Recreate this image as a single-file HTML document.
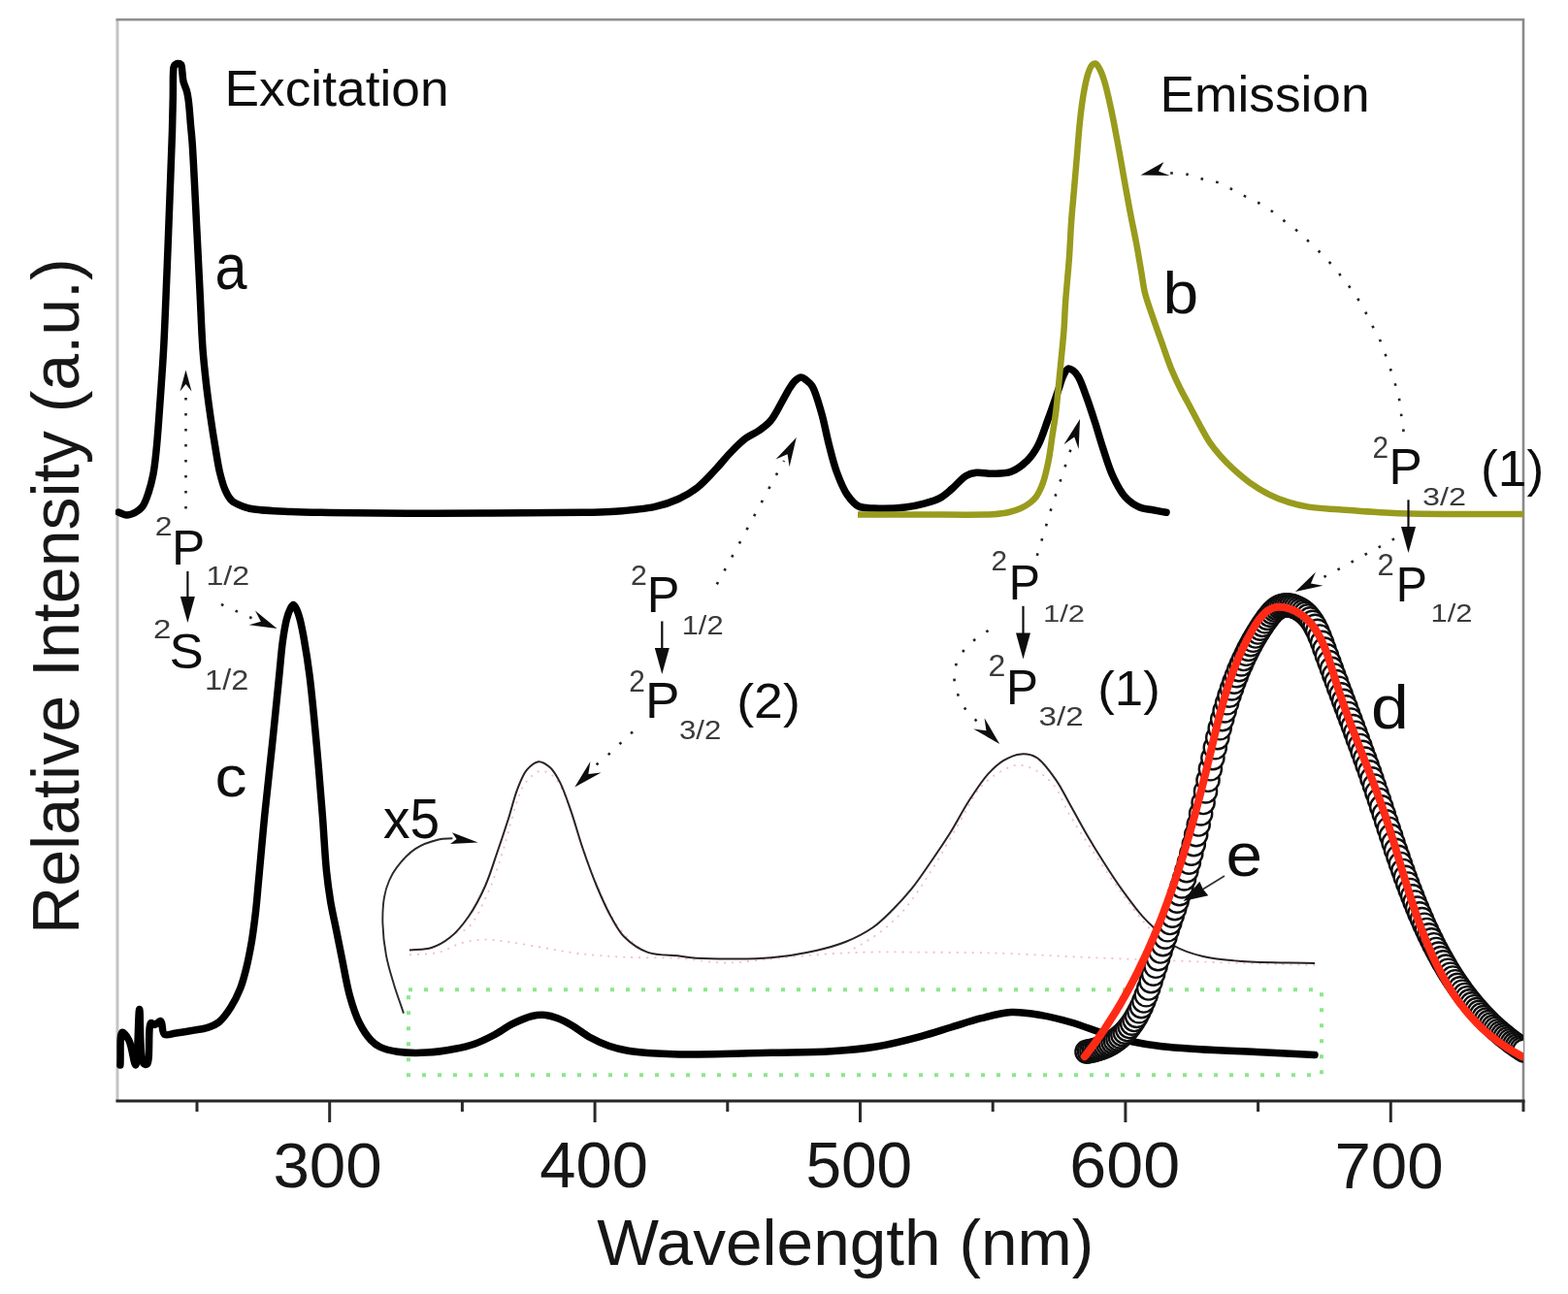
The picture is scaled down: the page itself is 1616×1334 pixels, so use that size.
<!DOCTYPE html><html><head><meta charset="utf-8"><title>Excitation and emission spectra</title><style>html,body{margin:0;padding:0;background:#fff;}svg{display:block;}text{font-family:"Liberation Sans",Arial,sans-serif;}</style></head><body>
<svg width="1616" height="1334" viewBox="0 0 1616 1334">
<rect width="1616" height="1334" fill="#fff"/>
<g id="plot" filter="url(#soft)">
<defs><clipPath id="frame"><rect x="121" y="20" width="1449" height="1115"/></clipPath><filter id="soft" x="0" y="0" width="100%" height="100%"><feGaussianBlur stdDeviation="0.65"/></filter><filter id="softt" x="0" y="0" width="100%" height="100%"><feGaussianBlur stdDeviation="0.55"/></filter><marker id="ah" viewBox="0 0 10 10" refX="9" refY="5" markerWidth="10" markerHeight="10" markerUnits="userSpaceOnUse" orient="auto"><path d="M0,0 L10,5 L0,10 L3,5 Z" fill="#111"/></marker></defs>
<line x1="121" y1="20.5" x2="121" y2="1136" stroke="#c4c4c4" stroke-width="3"/>
<line x1="119.5" y1="20.3" x2="1571" y2="20.3" stroke="#8f8f8f" stroke-width="2.6"/>
<line x1="1570" y1="19" x2="1570" y2="1136" stroke="#8a8a8a" stroke-width="2.6"/>
<rect x="421" y="1020.3" width="941" height="88" fill="none" stroke="#8de68d" stroke-width="4" stroke-dasharray="4 12"/>
<path d="M422.0,984.3 C432.0,983.5 442.7,984.1 452.0,981.9 C460.6,979.8 467.9,974.2 476.0,972.0 C483.9,969.9 492.0,968.9 500.0,968.7 C508.0,968.5 515.2,969.8 524.0,971.0 C534.8,972.4 548.0,975.0 560.0,977.0 C572.0,979.0 583.1,981.4 596.0,983.0 C610.8,984.8 627.4,985.9 644.0,986.7 C661.9,987.6 682.0,987.0 700.0,988.0 C716.7,989.0 731.9,992.5 748.3,992.5 C765.2,992.6 782.4,989.5 800.0,988.0 C818.4,986.4 839.0,984.3 856.6,983.2 C872.0,982.2 885.1,981.8 900.0,981.5 C915.9,981.2 932.8,981.6 949.4,981.7 C966.2,981.8 983.9,981.7 1000.0,982.0 C1014.7,982.3 1026.9,982.6 1042.0,983.2 C1059.8,983.9 1082.5,985.2 1100.0,986.0 C1114.6,986.7 1125.3,987.2 1140.0,987.8 C1158.0,988.5 1178.6,989.2 1200.0,990.0 C1224.8,990.9 1253.8,992.2 1280.0,993.0 C1305.4,993.8 1330.0,994.3 1355.0,995.0" fill="none" stroke="#f5bcc6" stroke-width="1.8" stroke-dasharray="2 6"/>
<path d="M470.0,962.0 C474.3,960.0 478.8,960.0 483.0,956.0 C490.5,948.9 498.7,929.7 504.7,916.0 C510.6,902.7 514.6,888.9 519.0,875.0 C523.4,860.9 527.3,843.4 531.0,832.0 C533.5,824.3 534.9,818.3 538.0,812.8 C540.7,807.9 544.4,803.1 548.0,800.0 C551.0,797.5 554.1,795.0 557.5,794.8 C561.3,794.6 566.4,797.1 570.0,800.0 C574.1,803.4 577.0,809.1 580.0,815.0 C583.8,822.5 586.6,832.3 590.0,842.0 C593.9,853.1 597.8,866.2 602.0,878.0 C606.1,889.5 610.3,900.9 615.0,912.0 C619.6,922.9 624.5,934.7 630.0,944.0 C634.7,952.0 639.6,959.1 645.0,965.0 C649.7,970.2 655.0,973.7 660.0,978.0" fill="none" stroke="#f5bcc6" stroke-width="1.8" stroke-dasharray="2 6"/>
<path d="M880.0,978.0 C888.6,972.7 897.4,968.3 905.7,962.0 C914.6,955.2 923.2,947.7 931.5,938.2 C941.2,927.1 950.2,912.6 959.2,898.6 C968.8,883.6 978.1,866.1 987.0,851.0 C995.2,837.2 1001.7,821.5 1010.7,811.5 C1017.9,803.5 1027.1,797.5 1034.5,793.7 C1040.0,790.9 1044.8,788.6 1050.3,788.7 C1056.5,788.8 1064.1,792.2 1070.0,795.6 C1076.0,799.1 1081.2,803.5 1086.0,809.5 C1092.1,817.1 1096.2,829.3 1101.8,839.0 C1107.5,848.8 1113.7,858.3 1120.0,868.0 C1126.4,878.0 1133.3,888.2 1140.0,898.0 C1146.6,907.5 1153.3,916.9 1160.0,926.0 C1166.6,934.9 1173.1,944.1 1180.0,952.0 C1186.4,959.3 1193.3,965.3 1200.0,972.0" fill="none" stroke="#f5bcc6" stroke-width="1.8" stroke-dasharray="2 6"/>
<path d="M422.0,979.5 C429.6,978.7 437.7,979.3 444.8,977.0 C451.7,974.8 458.0,971.1 464.0,966.3 C470.9,960.8 477.3,952.9 483.0,944.7 C489.4,935.6 495.2,924.3 500.0,913.5 C504.8,902.7 508.1,891.4 512.0,880.0 C516.1,868.2 520.3,855.6 524.0,844.0 C527.4,833.3 529.9,821.8 533.5,812.8 C536.4,805.5 538.9,798.4 543.0,793.6 C546.4,789.7 550.9,785.5 555.0,785.2 C558.9,784.9 563.5,788.2 567.0,791.2 C570.9,794.7 573.6,799.7 576.7,805.6 C581.0,813.8 584.9,825.8 588.7,836.8 C592.9,848.8 596.3,862.3 600.7,875.0 C605.1,887.9 610.0,901.4 615.0,913.5 C619.6,924.5 624.3,935.4 629.5,944.7 C634.0,952.7 637.6,960.2 643.8,966.3 C650.3,972.7 658.8,978.7 667.8,981.9 C677.4,985.3 690.9,984.4 700.0,985.5 C706.7,986.3 709.5,987.3 717.4,987.8 C734.0,988.8 772.3,989.0 794.7,987.2 C812.2,985.8 827.2,983.1 841.0,980.0 C852.5,977.4 862.1,974.8 872.0,970.8 C881.7,966.8 891.6,961.7 899.8,956.0 C907.3,950.7 913.2,944.6 919.6,938.2 C926.4,931.5 933.0,924.3 939.4,916.4 C946.3,907.9 952.7,898.1 959.2,888.7 C965.9,879.0 972.5,869.3 979.0,859.0 C985.8,848.2 992.0,835.8 998.8,825.3 C1005.2,815.5 1011.9,804.9 1018.6,797.6 C1023.9,791.8 1028.7,787.2 1034.5,783.8 C1040.0,780.6 1046.5,777.8 1052.3,777.4 C1057.7,777.0 1063.0,777.8 1068.1,780.8 C1075.1,784.9 1082.1,795.3 1088.0,803.6 C1094.0,812.1 1098.4,821.7 1103.8,831.3 C1109.6,841.5 1115.7,853.0 1121.6,863.0 C1126.9,872.1 1131.7,879.9 1137.4,888.7 C1143.5,898.3 1150.4,909.0 1157.2,918.4 C1163.7,927.4 1170.8,937.1 1177.0,944.2 C1181.8,949.7 1185.8,953.2 1190.9,958.0 C1196.7,963.4 1202.4,970.5 1210.0,975.0 C1218.5,980.1 1229.1,983.4 1240.0,986.0 C1252.2,989.0 1264.6,989.8 1280.0,991.0 C1301.1,992.6 1330.0,992.3 1355.0,993.0" fill="none" stroke="#2a2222" stroke-width="2"/>
<path d="M123.9,1098.0 C124.6,1086.8 123.0,1065.4 125.9,1064.4 C127.5,1063.9 130.8,1068.6 132.8,1072.3 C136.0,1078.2 138.1,1098.2 139.8,1098.0 C142.4,1097.7 142.4,1040.6 143.7,1040.6 C145.0,1040.6 143.6,1091.1 147.7,1096.0 C148.8,1097.3 150.5,1097.8 151.6,1097.0 C155.2,1094.5 152.1,1056.5 155.6,1054.5 C156.7,1053.9 158.2,1056.5 159.6,1056.4 C161.4,1056.3 164.0,1051.9 165.5,1052.5 C167.7,1053.3 166.7,1064.4 169.5,1066.3 C172.0,1068.0 176.3,1065.8 180.3,1065.3 C185.5,1064.6 192.4,1063.4 198.2,1062.4 C203.6,1061.4 209.2,1061.0 214.0,1059.4 C218.4,1057.9 222.2,1056.5 225.9,1053.5 C230.3,1050.0 234.3,1044.1 237.8,1038.6 C241.6,1032.6 245.0,1025.5 247.7,1018.8 C250.3,1012.3 251.8,1006.3 253.6,999.0 C255.8,990.1 257.9,979.2 259.6,969.3 C261.2,959.5 262.3,950.2 263.5,940.0 C264.8,928.9 265.5,918.5 266.8,905.0 C268.5,886.7 270.6,862.2 272.8,840.0 C275.1,816.6 278.0,792.0 280.5,768.0 C283.0,744.0 285.8,715.9 287.8,696.0 C289.2,681.9 290.0,670.5 291.5,660.0 C292.7,651.7 293.9,643.9 295.5,638.0 C296.6,633.8 297.9,630.1 299.3,627.5 C300.2,625.8 301.3,623.5 302.3,623.5 C303.3,623.5 304.4,625.8 305.3,627.5 C306.7,630.1 307.9,633.9 309.0,638.0 C310.5,643.4 311.6,649.5 313.0,657.0 C314.9,667.7 317.1,681.0 319.0,696.0 C321.6,716.3 324.1,744.0 326.3,768.0 C328.5,792.0 330.5,817.3 332.3,840.0 C333.9,860.4 334.8,881.6 336.5,898.0 C337.7,910.2 339.0,919.3 340.7,929.7 C342.4,939.8 344.7,949.5 346.7,959.4 C348.7,969.3 350.5,978.5 352.6,989.0 C355.0,1000.8 357.3,1015.2 360.5,1026.7 C363.3,1036.8 366.4,1046.5 370.4,1054.5 C373.8,1061.3 378.1,1067.9 382.3,1072.3 C385.4,1075.6 388.1,1077.6 392.0,1079.5 C396.8,1081.8 403.0,1083.2 409.7,1084.2 C418.3,1085.4 429.5,1085.6 439.4,1085.1 C449.3,1084.6 460.1,1082.9 469.0,1081.2 C476.4,1079.8 482.5,1078.5 489.0,1076.2 C495.7,1073.9 502.2,1070.7 508.7,1067.3 C515.4,1063.8 521.8,1058.7 528.5,1055.4 C535.0,1052.2 542.2,1048.9 548.3,1047.5 C553.2,1046.4 557.8,1046.1 562.2,1046.5 C566.3,1046.9 569.9,1048.0 574.0,1049.5 C579.0,1051.4 584.6,1054.3 590.0,1057.4 C595.9,1060.8 601.5,1065.8 607.7,1069.3 C614.0,1072.8 620.8,1075.9 627.5,1078.2 C634.0,1080.5 640.0,1081.9 647.3,1083.2 C656.1,1084.7 667.7,1085.5 677.0,1086.1 C685.1,1086.7 689.7,1086.9 700.0,1087.0 C720.8,1087.2 766.5,1085.9 794.7,1085.3 C817.5,1084.8 837.5,1085.0 856.6,1083.8 C873.2,1082.7 887.6,1081.6 903.0,1079.0 C918.5,1076.4 935.6,1072.0 949.4,1068.3 C960.8,1065.3 970.0,1062.1 980.3,1059.0 C990.6,1055.9 1000.9,1052.3 1011.3,1049.7 C1021.5,1047.1 1031.9,1044.0 1042.2,1043.5 C1052.5,1043.0 1062.9,1044.9 1073.2,1046.6 C1083.5,1048.4 1093.5,1050.9 1104.0,1054.0 C1115.4,1057.3 1127.8,1062.5 1139.0,1066.0 C1149.1,1069.1 1158.2,1071.9 1168.0,1074.0 C1177.7,1076.1 1187.0,1077.6 1197.5,1078.8 C1209.6,1080.2 1222.2,1080.8 1236.5,1081.7 C1254.0,1082.8 1275.4,1083.6 1295.0,1084.6 C1314.9,1085.6 1335.0,1086.5 1355.0,1087.5" fill="none" stroke="#050505" stroke-width="7.5" stroke-linejoin="round" stroke-linecap="round"/>
<path d="M122.0,528.0 C124.7,529.0 127.2,530.9 130.0,531.0 C133.1,531.1 137.1,529.6 140.0,528.0 C142.7,526.5 145.0,524.7 147.0,522.0 C149.6,518.5 151.3,513.1 153.0,508.0 C154.9,502.3 156.5,496.1 157.8,489.5 C159.3,481.9 160.1,473.6 161.0,465.0 C162.0,455.5 162.7,445.4 163.5,435.0 C164.4,423.8 165.2,412.1 166.0,400.0 C166.9,387.1 167.7,375.9 168.6,360.0 C169.9,336.8 171.1,302.5 172.3,274.0 C173.4,245.8 174.6,215.0 175.5,190.0 C176.3,169.7 177.0,151.3 177.5,135.0 C177.9,122.0 178.1,110.7 178.3,100.0 C178.5,91.0 178.2,80.8 178.6,75.0 C178.8,71.9 178.5,69.6 179.5,68.0 C180.3,66.7 181.8,65.7 183.0,65.5 C184.1,65.3 185.7,65.6 186.5,66.5 C187.7,67.8 187.4,71.3 187.8,74.0 C188.3,77.1 188.2,80.7 189.0,84.0 C189.8,87.4 191.6,90.6 192.5,94.0 C193.4,97.3 193.7,99.9 194.3,104.0 C195.2,110.6 195.9,122.1 196.6,130.0 C197.2,136.6 197.6,139.7 198.2,148.0 C199.5,166.8 201.6,212.6 203.0,240.0 C204.1,262.1 205.0,280.0 206.0,300.0 C207.0,320.0 207.7,342.0 209.0,360.0 C210.1,374.7 211.6,387.6 213.0,400.0 C214.3,410.7 215.5,419.8 217.0,430.0 C218.5,440.5 220.3,452.0 222.0,462.0 C223.5,470.9 224.7,479.4 226.5,487.0 C228.1,493.5 229.7,499.9 232.0,505.0 C233.9,509.3 235.7,513.2 238.7,516.0 C241.7,518.8 246.1,520.5 250.0,522.0 C253.9,523.5 256.8,524.2 262.0,525.0 C271.1,526.4 287.2,526.9 300.0,527.5 C313.2,528.1 324.4,528.2 340.0,528.5 C362.1,528.9 393.3,529.1 420.0,529.2 C446.7,529.3 471.8,529.1 500.0,529.0 C531.5,528.9 575.5,528.7 600.0,528.3 C614.2,528.0 621.9,528.2 633.7,527.3 C646.8,526.3 663.2,525.0 675.0,522.4 C684.2,520.4 691.6,517.9 699.0,514.5 C706.1,511.2 712.5,507.5 718.8,502.6 C725.7,497.2 732.7,489.1 738.6,482.8 C743.7,477.3 747.6,472.1 752.5,467.0 C757.5,461.8 763.0,456.0 768.3,452.0 C772.8,448.6 777.7,447.0 782.0,444.0 C786.3,441.0 790.3,438.3 794.0,434.0 C798.5,428.8 802.5,420.1 806.0,414.0 C808.9,408.9 811.4,403.8 813.9,400.0 C815.7,397.2 817.0,394.9 819.0,393.0 C820.9,391.2 823.6,389.0 825.7,389.0 C827.6,389.0 829.3,390.7 831.0,392.0 C833.0,393.6 835.1,395.0 837.0,398.0 C840.5,403.6 843.7,415.6 846.5,425.3 C849.6,435.9 851.7,448.3 854.5,459.0 C857.0,468.7 859.1,477.9 862.4,486.7 C865.5,495.1 869.1,504.3 873.5,510.5 C876.9,515.4 880.4,519.8 885.0,522.0 C889.6,524.2 894.8,523.7 901.0,524.0 C909.7,524.4 923.2,524.1 932.6,523.0 C940.4,522.1 947.3,520.5 953.6,518.8 C959.0,517.3 963.8,516.1 968.4,513.6 C973.0,511.1 976.7,507.6 981.0,504.0 C985.8,500.0 990.9,493.1 995.7,490.4 C999.3,488.4 1002.2,487.8 1006.2,487.3 C1011.1,486.7 1017.2,488.4 1023.0,488.3 C1029.1,488.1 1036.1,488.4 1042.0,486.2 C1048.1,483.9 1054.2,479.2 1058.8,474.7 C1063.2,470.4 1066.2,465.9 1069.4,460.0 C1073.5,452.5 1076.6,441.9 1080.0,432.6 C1083.6,423.0 1087.5,411.4 1090.4,403.0 C1092.6,396.9 1093.9,391.1 1096.0,387.0 C1097.5,384.1 1099.1,380.6 1101.0,380.0 C1102.5,379.6 1104.4,380.9 1106.0,382.0 C1108.0,383.4 1109.6,385.5 1111.4,388.4 C1114.3,393.2 1117.1,402.0 1119.8,409.4 C1122.7,417.4 1125.5,426.1 1128.3,434.7 C1131.2,443.6 1133.6,452.8 1136.7,462.0 C1139.9,471.7 1143.0,482.7 1147.2,491.5 C1150.9,499.3 1154.8,507.1 1159.8,512.5 C1164.1,517.2 1169.7,520.9 1174.6,523.0 C1178.7,524.8 1182.7,524.7 1187.0,525.5 C1191.8,526.4 1197.0,527.4 1202.0,528.3" fill="none" stroke="#050505" stroke-width="7.5" stroke-linejoin="round" stroke-linecap="round"/>
<path d="M884.0,530.4 C906.0,530.4 927.4,530.4 950.0,530.4 C973.7,530.4 1007.2,531.2 1023.0,530.2 C1030.7,529.7 1034.9,529.2 1040.0,528.0 C1044.4,527.0 1048.3,525.7 1052.0,524.0 C1055.6,522.4 1059.2,520.2 1062.0,518.0 C1064.4,516.1 1066.1,514.6 1068.0,512.0 C1070.5,508.5 1072.8,503.4 1074.8,498.0 C1077.3,491.2 1079.2,482.0 1080.8,474.0 C1082.4,466.0 1083.2,458.2 1084.4,450.0 C1085.7,441.5 1087.1,433.7 1088.3,424.0 C1089.8,411.7 1091.1,396.0 1092.5,382.0 C1093.9,368.0 1095.5,352.8 1096.5,340.0 C1097.3,329.2 1097.4,321.0 1098.2,310.0 C1099.2,296.5 1101.0,279.3 1102.0,265.0 C1102.9,251.9 1103.3,239.5 1104.2,227.5 C1105.0,216.3 1106.1,206.0 1107.0,195.0 C1108.0,183.5 1109.0,171.7 1110.0,160.0 C1111.0,148.3 1111.8,135.9 1113.0,125.0 C1114.0,115.4 1115.1,106.4 1116.5,98.0 C1117.8,90.5 1119.2,82.6 1121.0,77.0 C1122.3,73.0 1123.7,68.8 1125.5,67.0 C1126.6,66.0 1127.9,65.2 1129.0,65.5 C1130.4,65.9 1131.7,68.3 1133.0,70.5 C1134.8,73.6 1136.4,77.9 1138.0,83.0 C1140.4,90.6 1142.8,101.8 1145.0,112.0 C1147.5,123.3 1150.0,137.5 1152.0,148.0 C1153.5,156.2 1154.7,162.8 1156.0,170.0 C1157.2,176.8 1158.2,182.7 1159.5,190.0 C1161.1,199.0 1163.1,210.0 1165.0,220.0 C1166.9,230.0 1169.1,240.0 1171.0,250.0 C1172.9,260.0 1174.6,270.8 1176.2,280.0 C1177.6,287.9 1178.2,294.6 1180.0,302.0 C1181.9,309.6 1184.6,316.8 1187.4,325.0 C1190.6,334.4 1194.6,345.5 1198.0,355.0 C1201.1,363.7 1203.8,372.1 1207.0,380.0 C1210.0,387.2 1213.0,393.7 1216.4,400.5 C1219.8,407.3 1223.6,414.0 1227.2,420.7 C1230.8,427.5 1234.5,434.6 1238.0,441.0 C1241.2,446.7 1244.0,452.2 1247.5,457.2 C1250.8,462.0 1254.4,466.3 1258.3,470.7 C1262.4,475.3 1267.0,479.8 1271.8,484.2 C1276.9,488.8 1282.1,493.4 1288.0,497.6 C1294.2,502.0 1301.3,506.4 1308.2,509.8 C1314.8,513.1 1321.6,515.8 1328.4,517.9 C1335.1,520.0 1341.2,521.4 1348.7,522.6 C1358.0,524.1 1368.0,524.4 1380.0,525.3 C1396.2,526.5 1417.5,528.2 1437.0,529.0 C1457.5,529.8 1478.4,529.8 1500.0,530.0 C1522.7,530.2 1546.7,530.0 1570.0,530.0" fill="none" stroke="#989b1e" stroke-width="6.5" stroke-linejoin="round" stroke-linecap="butt"/>
<g clip-path="url(#frame)">
<g fill="#fff" stroke="#111" stroke-width="2.4"><circle cx="1120.0" cy="1084.2" r="11.6"/><circle cx="1122.5" cy="1083.8" r="11.6"/><circle cx="1124.9" cy="1083.3" r="11.6"/><circle cx="1127.4" cy="1082.7" r="11.6"/><circle cx="1129.8" cy="1082.0" r="11.6"/><circle cx="1132.3" cy="1081.3" r="11.6"/><circle cx="1134.7" cy="1080.4" r="11.6"/><circle cx="1137.2" cy="1079.5" r="11.6"/><circle cx="1139.6" cy="1078.4" r="11.6"/><circle cx="1142.1" cy="1077.2" r="11.6"/><circle cx="1144.5" cy="1075.9" r="11.6"/><circle cx="1147.0" cy="1074.4" r="11.6"/><circle cx="1149.4" cy="1072.7" r="11.6"/><circle cx="1151.9" cy="1070.9" r="11.6"/><circle cx="1154.3" cy="1068.9" r="11.6"/><circle cx="1156.8" cy="1066.7" r="11.6"/><circle cx="1159.2" cy="1064.2" r="11.6"/><circle cx="1161.7" cy="1061.5" r="11.6"/><circle cx="1164.1" cy="1058.5" r="11.6"/><circle cx="1166.6" cy="1055.2" r="11.6"/><circle cx="1169.0" cy="1051.5" r="11.6"/><circle cx="1171.5" cy="1047.4" r="11.6"/><circle cx="1173.9" cy="1042.8" r="11.6"/><circle cx="1176.4" cy="1037.7" r="11.6"/><circle cx="1178.8" cy="1032.0" r="11.6"/><circle cx="1181.3" cy="1025.8" r="11.6"/><circle cx="1183.7" cy="1019.0" r="11.6"/><circle cx="1186.2" cy="1011.7" r="11.6"/><circle cx="1188.6" cy="1004.1" r="11.6"/><circle cx="1191.1" cy="996.3" r="11.6"/><circle cx="1193.5" cy="988.6" r="11.6"/><circle cx="1196.0" cy="981.0" r="11.6"/><circle cx="1198.4" cy="973.6" r="11.6"/><circle cx="1200.9" cy="966.2" r="11.6"/><circle cx="1203.3" cy="958.8" r="11.6"/><circle cx="1205.8" cy="951.5" r="11.6"/><circle cx="1208.2" cy="944.1" r="11.6"/><circle cx="1210.7" cy="936.7" r="11.6"/><circle cx="1213.1" cy="929.2" r="11.6"/><circle cx="1215.6" cy="921.6" r="11.6"/><circle cx="1218.0" cy="913.9" r="11.6"/><circle cx="1220.5" cy="905.9" r="11.6"/><circle cx="1222.9" cy="897.7" r="11.6"/><circle cx="1225.4" cy="889.1" r="11.6"/><circle cx="1227.8" cy="880.1" r="11.6"/><circle cx="1230.3" cy="870.6" r="11.6"/><circle cx="1232.7" cy="860.6" r="11.6"/><circle cx="1235.2" cy="850.0" r="11.6"/><circle cx="1237.6" cy="838.9" r="11.6"/><circle cx="1240.1" cy="827.5" r="11.6"/><circle cx="1242.5" cy="815.9" r="11.6"/><circle cx="1245.0" cy="804.3" r="11.6"/><circle cx="1247.4" cy="792.8" r="11.6"/><circle cx="1249.9" cy="781.6" r="11.6"/><circle cx="1252.3" cy="770.8" r="11.6"/><circle cx="1254.8" cy="760.6" r="11.6"/><circle cx="1257.2" cy="750.8" r="11.6"/><circle cx="1259.7" cy="741.6" r="11.6"/><circle cx="1262.1" cy="732.9" r="11.6"/><circle cx="1264.6" cy="724.8" r="11.6"/><circle cx="1267.0" cy="717.1" r="11.6"/><circle cx="1269.5" cy="709.9" r="11.6"/><circle cx="1271.9" cy="703.1" r="11.6"/><circle cx="1274.4" cy="696.7" r="11.6"/><circle cx="1276.8" cy="690.6" r="11.6"/><circle cx="1279.3" cy="684.9" r="11.6"/><circle cx="1281.7" cy="679.5" r="11.6"/><circle cx="1284.2" cy="674.3" r="11.6"/><circle cx="1286.6" cy="669.4" r="11.6"/><circle cx="1289.1" cy="664.7" r="11.6"/><circle cx="1291.5" cy="660.3" r="11.6"/><circle cx="1294.0" cy="656.0" r="11.6"/><circle cx="1296.4" cy="652.0" r="11.6"/><circle cx="1298.9" cy="648.1" r="11.6"/><circle cx="1301.3" cy="644.4" r="11.6"/><circle cx="1303.8" cy="640.8" r="11.6"/><circle cx="1306.2" cy="637.4" r="11.6"/><circle cx="1308.7" cy="634.2" r="11.6"/><circle cx="1311.1" cy="631.4" r="11.6"/><circle cx="1313.6" cy="629.0" r="11.6"/><circle cx="1316.0" cy="627.1" r="11.6"/><circle cx="1318.5" cy="625.6" r="11.6"/><circle cx="1320.9" cy="624.6" r="11.6"/><circle cx="1323.4" cy="624.0" r="11.6"/><circle cx="1325.8" cy="623.8" r="11.6"/><circle cx="1328.3" cy="624.0" r="11.6"/><circle cx="1330.7" cy="624.4" r="11.6"/><circle cx="1333.2" cy="625.1" r="11.6"/><circle cx="1335.6" cy="626.0" r="11.6"/><circle cx="1338.1" cy="627.2" r="11.6"/><circle cx="1340.5" cy="628.6" r="11.6"/><circle cx="1343.0" cy="630.3" r="11.6"/><circle cx="1345.4" cy="632.4" r="11.6"/><circle cx="1347.9" cy="634.8" r="11.6"/><circle cx="1350.3" cy="637.8" r="11.6"/><circle cx="1352.8" cy="641.3" r="11.6"/><circle cx="1355.2" cy="645.4" r="11.6"/><circle cx="1357.7" cy="650.3" r="11.6"/><circle cx="1360.1" cy="656.0" r="11.6"/><circle cx="1362.6" cy="662.3" r="11.6"/><circle cx="1365.0" cy="669.1" r="11.6"/><circle cx="1367.5" cy="675.9" r="11.6"/><circle cx="1369.9" cy="682.6" r="11.6"/><circle cx="1372.4" cy="689.3" r="11.6"/><circle cx="1374.8" cy="696.0" r="11.6"/><circle cx="1377.3" cy="702.6" r="11.6"/><circle cx="1379.7" cy="709.2" r="11.6"/><circle cx="1382.2" cy="715.8" r="11.6"/><circle cx="1384.6" cy="722.4" r="11.6"/><circle cx="1387.1" cy="728.9" r="11.6"/><circle cx="1389.5" cy="735.5" r="11.6"/><circle cx="1392.0" cy="742.0" r="11.6"/><circle cx="1394.4" cy="748.6" r="11.6"/><circle cx="1396.9" cy="755.2" r="11.6"/><circle cx="1399.3" cy="761.9" r="11.6"/><circle cx="1401.8" cy="768.5" r="11.6"/><circle cx="1404.2" cy="775.3" r="11.6"/><circle cx="1406.7" cy="782.1" r="11.6"/><circle cx="1409.1" cy="788.9" r="11.6"/><circle cx="1411.6" cy="795.8" r="11.6"/><circle cx="1414.0" cy="802.9" r="11.6"/><circle cx="1416.5" cy="810.0" r="11.6"/><circle cx="1418.9" cy="817.2" r="11.6"/><circle cx="1421.4" cy="824.5" r="11.6"/><circle cx="1423.8" cy="831.9" r="11.6"/><circle cx="1426.3" cy="839.3" r="11.6"/><circle cx="1428.7" cy="846.8" r="11.6"/><circle cx="1431.2" cy="854.2" r="11.6"/><circle cx="1433.6" cy="861.6" r="11.6"/><circle cx="1436.1" cy="869.0" r="11.6"/><circle cx="1438.5" cy="876.3" r="11.6"/><circle cx="1441.0" cy="883.4" r="11.6"/><circle cx="1443.4" cy="890.5" r="11.6"/><circle cx="1445.9" cy="897.5" r="11.6"/><circle cx="1448.3" cy="904.3" r="11.6"/><circle cx="1450.8" cy="911.0" r="11.6"/><circle cx="1453.2" cy="917.5" r="11.6"/><circle cx="1455.7" cy="923.8" r="11.6"/><circle cx="1458.1" cy="930.0" r="11.6"/><circle cx="1460.6" cy="936.1" r="11.6"/><circle cx="1463.0" cy="941.9" r="11.6"/><circle cx="1465.5" cy="947.6" r="11.6"/><circle cx="1467.9" cy="953.2" r="11.6"/><circle cx="1470.4" cy="958.5" r="11.6"/><circle cx="1472.8" cy="963.8" r="11.6"/><circle cx="1475.3" cy="968.8" r="11.6"/><circle cx="1477.7" cy="973.7" r="11.6"/><circle cx="1480.2" cy="978.5" r="11.6"/><circle cx="1482.6" cy="983.1" r="11.6"/><circle cx="1485.1" cy="987.6" r="11.6"/><circle cx="1487.5" cy="991.9" r="11.6"/><circle cx="1490.0" cy="996.1" r="11.6"/><circle cx="1492.4" cy="1000.2" r="11.6"/><circle cx="1494.9" cy="1004.2" r="11.6"/><circle cx="1497.3" cy="1008.0" r="11.6"/><circle cx="1499.8" cy="1011.7" r="11.6"/><circle cx="1502.2" cy="1015.3" r="11.6"/><circle cx="1504.7" cy="1018.8" r="11.6"/><circle cx="1507.1" cy="1022.2" r="11.6"/><circle cx="1509.6" cy="1025.5" r="11.6"/><circle cx="1512.0" cy="1028.7" r="11.6"/><circle cx="1514.5" cy="1031.8" r="11.6"/><circle cx="1516.9" cy="1034.8" r="11.6"/><circle cx="1519.4" cy="1037.7" r="11.6"/><circle cx="1521.8" cy="1040.6" r="11.6"/><circle cx="1524.3" cy="1043.3" r="11.6"/><circle cx="1526.7" cy="1046.0" r="11.6"/><circle cx="1529.2" cy="1048.6" r="11.6"/><circle cx="1531.6" cy="1051.1" r="11.6"/><circle cx="1534.1" cy="1053.6" r="11.6"/><circle cx="1536.5" cy="1056.0" r="11.6"/><circle cx="1539.0" cy="1058.3" r="11.6"/><circle cx="1541.4" cy="1060.5" r="11.6"/><circle cx="1543.9" cy="1062.7" r="11.6"/><circle cx="1546.3" cy="1064.8" r="11.6"/><circle cx="1548.8" cy="1066.9" r="11.6"/><circle cx="1551.2" cy="1068.9" r="11.6"/><circle cx="1553.7" cy="1070.8" r="11.6"/><circle cx="1556.1" cy="1072.7" r="11.6"/><circle cx="1558.6" cy="1074.6" r="11.6"/><circle cx="1561.0" cy="1076.3" r="11.6"/><circle cx="1563.5" cy="1078.1" r="11.6"/><circle cx="1565.9" cy="1079.8" r="11.6"/><circle cx="1568.4" cy="1081.4" r="11.6"/><circle cx="1570.8" cy="1083.0" r="11.6"/></g>
<path d="M1117.9,1089.2 L1119.7,1086.8 L1121.5,1084.5 L1123.3,1082.1 L1125.1,1079.7 L1126.9,1077.3 L1128.7,1074.9 L1130.4,1072.5 L1132.1,1070.0 L1133.8,1067.6 L1135.5,1065.1 L1137.2,1062.7 L1138.9,1060.2 L1140.5,1057.7 L1142.1,1055.2 L1143.7,1052.7 L1145.3,1050.2 L1146.9,1047.7 L1148.5,1045.2 L1150.1,1042.7 L1151.6,1040.1 L1153.1,1037.6 L1154.6,1035.0 L1156.1,1032.4 L1157.6,1029.8 L1159.1,1027.2 L1160.5,1024.6 L1162.0,1022.0 L1163.4,1019.4 L1164.8,1016.8 L1166.2,1014.2 L1167.6,1011.5 L1169.0,1008.9 L1170.3,1006.2 L1171.7,1003.6 L1173.0,1000.9 L1174.3,998.2 L1175.6,995.5 L1176.9,992.8 L1178.2,990.1 L1179.5,987.4 L1180.7,984.7 L1182.0,982.0 L1183.2,979.3 L1184.4,976.5 L1185.6,973.8 L1186.8,971.0 L1188.0,968.3 L1189.2,965.5 L1190.3,962.8 L1191.5,960.0 L1192.6,957.2 L1193.8,954.4 L1194.9,951.6 L1196.0,948.9 L1197.1,946.1 L1198.2,943.3 L1199.3,940.4 L1200.3,937.6 L1201.4,934.8 L1202.4,932.0 L1203.5,929.2 L1204.5,926.3 L1205.5,923.5 L1206.5,920.6 L1207.5,917.8 L1208.5,914.9 L1209.5,912.1 L1210.5,909.2 L1211.4,906.4 L1212.4,903.5 L1213.4,900.6 L1214.3,897.7 L1215.2,894.9 L1216.1,892.0 L1217.1,889.1 L1218.0,886.2 L1218.9,883.3 L1219.8,880.4 L1220.6,877.5 L1221.5,874.6 L1222.4,871.7 L1223.2,868.8 L1224.1,865.9 L1224.9,863.0 L1225.8,860.1 L1226.6,857.2 L1227.4,854.3 L1228.3,851.4 L1229.1,848.4 L1229.9,845.5 L1230.7,842.6 L1231.5,839.7 L1232.3,836.7 L1233.1,833.8 L1233.8,830.9 L1234.6,828.0 L1235.4,825.0 L1236.1,822.1 L1236.9,819.2 L1237.6,816.2 L1238.4,813.3 L1239.1,810.4 L1239.9,807.4 L1240.6,804.5 L1241.3,801.6 L1242.1,798.6 L1242.8,795.7 L1243.5,792.8 L1244.2,789.8 L1244.9,786.9 L1245.6,784.0 L1246.3,781.0 L1247.0,778.1 L1247.7,775.2 L1248.4,772.3 L1249.1,769.3 L1249.8,766.4 L1250.5,763.5 L1251.2,760.6 L1251.9,757.6 L1252.6,754.7 L1253.3,751.8 L1254.0,748.9 L1254.8,746.0 L1255.5,743.1 L1256.2,740.2 L1257.0,737.3 L1257.7,734.4 L1258.5,731.5 L1259.3,728.6 L1260.1,725.7 L1260.9,722.8 L1261.8,720.0 L1262.6,717.1 L1263.5,714.2 L1264.3,711.4 L1265.3,708.5 L1266.2,705.7 L1267.1,702.8 L1268.1,700.0 L1269.1,697.1 L1270.1,694.3 L1271.1,691.5 L1272.2,688.7 L1273.3,685.8 L1274.4,683.0 L1275.6,680.2 L1276.7,677.5 L1277.9,674.7 L1279.2,671.9 L1280.5,669.1 L1281.8,666.4 L1283.1,663.6 L1284.5,660.9 L1285.9,658.1 L1287.4,655.4 L1288.9,652.7 L1290.4,650.0 L1292.0,647.3 L1293.6,644.6 L1295.3,642.0 L1297.0,639.5 L1298.8,637.2 L1300.7,634.9 L1302.6,632.9 L1304.7,631.0 L1306.8,629.4 L1309.1,628.1 L1311.4,627.0 L1313.9,626.2 L1316.5,625.8 L1319.2,625.7 L1321.9,625.9 L1324.7,626.4 L1327.5,627.1 L1330.3,628.0 L1333.1,629.2 L1335.8,630.5 L1338.4,632.0 L1340.9,633.6 L1343.2,635.3 L1345.5,637.2 L1347.6,639.1 L1349.6,641.2 L1351.5,643.4 L1353.3,645.6 L1355.0,648.0 L1356.6,650.5 L1358.2,653.0 L1359.6,655.6 L1361.0,658.2 L1362.4,661.0 L1363.6,663.7 L1364.8,666.6 L1366.0,669.5 L1367.1,672.4 L1368.1,675.3 L1369.2,678.3 L1370.2,681.3 L1371.1,684.3 L1372.1,687.4 L1373.0,690.4 L1374.0,693.4 L1374.9,696.5 L1375.8,699.5 L1376.8,702.5 L1377.7,705.5 L1378.7,708.5 L1379.6,711.4 L1380.6,714.4 L1381.6,717.3 L1382.6,720.2 L1383.6,723.1 L1384.6,726.0 L1385.6,728.9 L1386.6,731.8 L1387.7,734.6 L1388.7,737.4 L1389.7,740.3 L1390.8,743.1 L1391.8,745.9 L1392.9,748.7 L1393.9,751.5 L1395.0,754.3 L1396.1,757.0 L1397.1,759.8 L1398.2,762.6 L1399.2,765.3 L1400.3,768.1 L1401.4,770.8 L1402.4,773.6 L1403.5,776.3 L1404.6,779.0 L1405.6,781.8 L1406.7,784.5 L1407.8,787.2 L1408.8,790.0 L1409.9,792.7 L1411.0,795.4 L1412.0,798.2 L1413.1,800.9 L1414.1,803.6 L1415.2,806.4 L1416.2,809.1 L1417.2,811.9 L1418.3,814.6 L1419.3,817.4 L1420.3,820.1 L1421.3,822.9 L1422.3,825.7 L1423.3,828.5 L1424.3,831.2 L1425.3,834.0 L1426.2,836.9 L1427.2,839.7 L1428.2,842.5 L1429.1,845.3 L1430.0,848.2 L1431.0,851.0 L1431.9,853.9 L1432.8,856.8 L1433.7,859.7 L1434.6,862.5 L1435.5,865.4 L1436.4,868.3 L1437.3,871.2 L1438.2,874.2 L1439.1,877.1 L1439.9,880.0 L1440.8,882.9 L1441.7,885.8 L1442.6,888.8 L1443.5,891.7 L1444.3,894.6 L1445.2,897.6 L1446.1,900.5 L1447.0,903.4 L1447.9,906.4 L1448.8,909.3 L1449.7,912.2 L1450.6,915.2 L1451.5,918.1 L1452.4,921.0 L1453.4,923.9 L1454.3,926.9 L1455.3,929.8 L1456.2,932.7 L1457.2,935.6 L1458.1,938.5 L1459.1,941.4 L1460.1,944.3 L1461.1,947.1 L1462.1,950.0 L1463.2,952.9 L1464.2,955.7 L1465.3,958.6 L1466.4,961.4 L1467.5,964.2 L1468.6,967.0 L1469.7,969.8 L1470.8,972.6 L1472.0,975.4 L1473.2,978.2 L1474.4,980.9 L1475.6,983.7 L1476.8,986.4 L1478.1,989.1 L1479.4,991.8 L1480.7,994.5 L1482.0,997.1 L1483.4,999.8 L1484.7,1002.4 L1486.1,1005.0 L1487.6,1007.6 L1489.0,1010.2 L1490.5,1012.7 L1492.0,1015.3 L1493.5,1017.8 L1495.1,1020.3 L1496.7,1022.8 L1498.3,1025.2 L1499.9,1027.6 L1501.6,1030.1 L1503.3,1032.4 L1505.1,1034.8 L1506.9,1037.1 L1508.7,1039.4 L1510.5,1041.7 L1512.4,1044.0 L1514.3,1046.2 L1516.2,1048.4 L1518.2,1050.6 L1520.3,1052.8 L1522.3,1054.9 L1524.4,1057.0 L1526.5,1059.1 L1528.7,1061.1 L1530.9,1063.1 L1533.2,1065.1 L1535.5,1067.0 L1537.8,1069.0 L1540.2,1070.8 L1542.6,1072.7 L1545.1,1074.5 L1547.6,1076.3 L1550.1,1078.0 L1552.7,1079.8 L1555.4,1081.4 L1558.1,1083.1 L1560.8,1084.7 L1563.6,1086.3 L1566.4,1087.8 L1569.3,1089.3" fill="none" stroke="#ff2a14" stroke-width="8" stroke-linejoin="round" stroke-linecap="round"/>
</g>
<line x1="119.5" y1="1135" x2="1571.5" y2="1135" stroke="#262626" stroke-width="3.2"/>
<g stroke="#2a2a2a" stroke-width="3"><line x1="203.0" y1="1135" x2="203.0" y2="1146.0"/><line x1="339.7" y1="1135" x2="339.7" y2="1157.0"/><line x1="476.4" y1="1135" x2="476.4" y2="1146.0"/><line x1="613.1" y1="1135" x2="613.1" y2="1157.0"/><line x1="749.8" y1="1135" x2="749.8" y2="1146.0"/><line x1="886.5" y1="1135" x2="886.5" y2="1157.0"/><line x1="1023.2" y1="1135" x2="1023.2" y2="1146.0"/><line x1="1159.9" y1="1135" x2="1159.9" y2="1157.0"/><line x1="1296.6" y1="1135" x2="1296.6" y2="1146.0"/><line x1="1433.3" y1="1135" x2="1433.3" y2="1157.0"/><line x1="1570.0" y1="1135" x2="1570.0" y2="1146.0"/></g>
</g>
<g filter="url(#soft)"><line x1="193.4" y1="589.0" x2="193.4" y2="617.0" stroke="#111" stroke-width="2.2"/><path d="M185.9,615.0 L200.9,615.0 L193.4,642.0 Z" fill="#111"/><line x1="682.3" y1="640.4" x2="682.3" y2="670.0" stroke="#111" stroke-width="2.2"/><path d="M674.8,668.0 L689.8,668.0 L682.3,695.0 Z" fill="#111"/><line x1="1054.5" y1="624.8" x2="1054.5" y2="654.4" stroke="#111" stroke-width="2.2"/><path d="M1047.0,652.4 L1062.0,652.4 L1054.5,679.4 Z" fill="#111"/><line x1="1451.5" y1="515.3" x2="1451.5" y2="545.0" stroke="#111" stroke-width="2.2"/><path d="M1444.0,543.0 L1459.0,543.0 L1451.5,570.0 Z" fill="#111"/><path d="M191.5,524.6 L191.5,400.0" fill="none" stroke="#222" stroke-width="2.6" stroke-dasharray="2.6 13.4" stroke-linecap="butt"/><path d="M191.5,381.6 L197.5,403.6 L191.5,395.9 L185.5,403.6 Z" fill="#111"/><path d="M228.0,623.0 L270.0,642.0" fill="none" stroke="#222" stroke-width="2.6" stroke-dasharray="2.6 13.4" stroke-linecap="butt"/><path d="M285.5,648.0 L256.6,644.2 L268.8,640.7 L263.0,629.5 Z" fill="#111"/><path d="M738.8,602.4 L765.0,554.6 L800.0,489.7 L808.0,475.0" fill="none" stroke="#222" stroke-width="2.6" stroke-dasharray="2.6 13.4" stroke-linecap="butt"/><path d="M820.8,451.0 L813.6,481.2 L811.6,468.2 L799.5,473.6 Z" fill="#111"/><path d="M652.0,754.4 L620.0,784.6 L612.0,790.0" fill="none" stroke="#222" stroke-width="2.6" stroke-dasharray="2.6 13.4" stroke-linecap="butt"/><path d="M592.3,811.6 L608.4,785.1 L606.4,798.1 L619.5,796.6 Z" fill="#111"/><path d="M1068.8,572.9 L1083.8,523.0 L1104.7,459.6" fill="none" stroke="#222" stroke-width="2.6" stroke-dasharray="2.6 13.4" stroke-linecap="butt"/><path d="M1113.0,432.0 L1111.7,463.0 L1107.2,450.6 L1096.4,458.2 Z" fill="#111"/><path d="M1018.5,650.0 C1013.0,653.9 1006.8,657.3 1001.9,661.8 C997.1,666.2 992.3,671.0 989.2,676.4 C986.2,681.7 984.0,688.2 983.4,694.0 C982.9,699.3 984.0,704.3 985.3,709.6 C986.8,715.3 989.0,721.7 992.2,727.0 C995.5,732.4 1001.1,737.9 1004.8,741.7 C1007.4,744.4 1009.6,745.9 1012.0,748.0" fill="none" stroke="#222" stroke-width="2.6" stroke-dasharray="2.6 13.4" stroke-linecap="butt"/><path d="M1030.2,767.0 L1003.3,751.5 L1016.4,753.2 L1014.6,740.2 Z" fill="#111"/><path d="M1446.6,445.0 C1445.8,439.3 1444.9,433.4 1444.2,428.0 C1443.6,423.1 1443.4,418.7 1442.5,413.8 C1441.5,408.4 1439.7,402.5 1438.2,397.0 C1436.7,391.7 1435.1,386.8 1433.4,381.5 C1431.6,376.0 1429.5,370.2 1427.5,364.7 C1425.5,359.4 1423.9,354.1 1421.5,349.0 C1419.1,343.7 1415.8,338.8 1413.0,333.5 C1410.2,328.0 1407.8,322.2 1404.7,316.7 C1401.5,311.0 1397.7,305.4 1393.9,300.0 C1390.1,294.6 1386.1,289.5 1381.9,284.3 C1377.7,279.0 1373.4,273.8 1368.7,268.7 C1363.8,263.4 1358.4,258.2 1353.0,253.0 C1347.6,247.8 1341.9,242.2 1336.3,237.5 C1331.1,233.1 1325.9,229.6 1320.7,225.6 C1315.5,221.6 1310.5,217.1 1305.0,213.6 C1299.7,210.2 1293.8,207.8 1288.3,205.0 C1283.0,202.2 1278.0,199.5 1272.7,196.8 C1267.2,194.0 1261.6,190.4 1256.0,188.4 C1250.8,186.5 1245.6,186.2 1240.4,184.8 C1235.2,183.4 1230.7,181.1 1224.8,180.0 C1217.6,178.6 1208.3,178.7 1200.0,178.0" fill="none" stroke="#222" stroke-width="2.6" stroke-dasharray="2.6 13.4" stroke-linecap="butt"/><path d="M1175.6,180.6 L1199.5,167 L1194,176.5 L1205.5,181 Z" fill="#111"/><path d="M1437.0,555.4 L1354.7,600.3" fill="none" stroke="#222" stroke-width="2.6" stroke-dasharray="2.6 13.4" stroke-linecap="butt"/><path d="M1335.0,610.0 L1355.9,589.7 L1351.0,601.4 L1363.5,603.8 Z" fill="#111"/><line x1="1262" y1="903" x2="1236" y2="919" stroke="#333" stroke-width="1.8"/><path d="M1219.5,929.0 L1236.4,908.7 L1239.8,916.6 L1245.3,923.2 Z" fill="#111"/><path d="M416.0,1044.6 C412.7,1034.7 409.0,1024.9 406.0,1014.9 C403.0,1005.0 399.9,995.3 398.0,985.0 C396.0,974.3 394.7,962.4 394.4,951.9 C394.2,942.5 394.6,932.9 396.0,925.0 C397.1,918.6 398.8,913.2 401.0,908.0 C403.1,903.1 405.2,899.0 408.8,894.3 C413.5,888.1 420.7,879.9 428.0,875.1 C435.1,870.4 444.9,867.2 452.0,865.5 C457.3,864.2 461.6,864.7 466.4,864.3" fill="none" stroke="#2a2a2a" stroke-width="1.9"/><path d="M492.7,868.5 L464.1,870.0 L470.6,865.0 L466.0,858.2 Z" fill="#111"/></g>
<g filter="url(#softt)"><text x="281.40" y="1223.60" font-size="65.13" fill="#151515" textLength="112.44" lengthAdjust="spacingAndGlyphs">300</text><text x="556.30" y="1223.80" font-size="66.16" fill="#151515" textLength="111.70" lengthAdjust="spacingAndGlyphs">400</text><text x="830.40" y="1223.80" font-size="66.16" fill="#151515" textLength="109.80" lengthAdjust="spacingAndGlyphs">500</text><text x="1102.30" y="1223.80" font-size="66.16" fill="#151515" textLength="113.80" lengthAdjust="spacingAndGlyphs">600</text><text x="1375.40" y="1224.60" font-size="66.01" fill="#151515" textLength="112.23" lengthAdjust="spacingAndGlyphs">700</text><text x="615.30" y="1304.40" font-size="66.40" fill="#151515" textLength="512.06" lengthAdjust="spacingAndGlyphs">Wavelength (nm)</text><text transform="translate(81.10,963.00) rotate(-90)" font-size="68.99" fill="#151515" textLength="696.68" lengthAdjust="spacingAndGlyphs">Relative Intensity (a.u.)</text><text x="231.40" y="108.90" font-size="51.14" fill="#111" textLength="231.25" lengthAdjust="spacingAndGlyphs">Excitation</text><text x="1195.50" y="114.90" font-size="51.14" fill="#111" textLength="216.13" lengthAdjust="spacingAndGlyphs">Emission</text><text x="221.40" y="298.30" font-size="66.30" fill="#111" textLength="33.01" lengthAdjust="spacingAndGlyphs">a</text><text x="1198.60" y="323.30" font-size="61.31" fill="#111" textLength="36.64" lengthAdjust="spacingAndGlyphs">b</text><text x="221.60" y="821.20" font-size="58.75" fill="#111" textLength="32.97" lengthAdjust="spacingAndGlyphs">c</text><text x="1413.00" y="751.40" font-size="62.44" fill="#111" textLength="38.83" lengthAdjust="spacingAndGlyphs">d</text><text x="1263.40" y="902.90" font-size="62.52" fill="#111" textLength="37.58" lengthAdjust="spacingAndGlyphs">e</text><text x="395.10" y="864.30" font-size="56.67" fill="#111" textLength="58.14" lengthAdjust="spacingAndGlyphs">x5</text><text x="159.70" y="552.30" font-size="27.63" fill="#3a3a3a" textLength="17.76" lengthAdjust="spacingAndGlyphs">2</text><text x="177.00" y="581.90" font-size="50.30" fill="#111" textLength="34.25" lengthAdjust="spacingAndGlyphs">P</text><text x="212.40" y="602.90" font-size="28.21" fill="#3a3a3a" textLength="44.67" lengthAdjust="spacingAndGlyphs">1/2</text><text x="158.10" y="658.20" font-size="28.51" fill="#3a3a3a" textLength="18.35" lengthAdjust="spacingAndGlyphs">2</text><text x="174.50" y="688.60" font-size="50.00" fill="#111" textLength="35.21" lengthAdjust="spacingAndGlyphs">S</text><text x="211.10" y="710.60" font-size="28.73" fill="#3a3a3a" textLength="45.11" lengthAdjust="spacingAndGlyphs">1/2</text><text x="649.90" y="602.90" font-size="30.13" fill="#3a3a3a" textLength="16.81" lengthAdjust="spacingAndGlyphs">2</text><text x="666.80" y="630.70" font-size="51.73" fill="#111" textLength="33.68" lengthAdjust="spacingAndGlyphs">P</text><text x="702.70" y="653.90" font-size="28.21" fill="#3a3a3a" textLength="42.93" lengthAdjust="spacingAndGlyphs">1/2</text><text x="648.30" y="712.90" font-size="30.82" fill="#3a3a3a" textLength="16.57" lengthAdjust="spacingAndGlyphs">2</text><text x="665.00" y="740.00" font-size="51.73" fill="#111" textLength="35.48" lengthAdjust="spacingAndGlyphs">P</text><text x="699.90" y="761.50" font-size="28.21" fill="#3a3a3a" textLength="43.34" lengthAdjust="spacingAndGlyphs">3/2</text><text x="759.20" y="740.10" font-size="50.63" fill="#111" textLength="65.58" lengthAdjust="spacingAndGlyphs">(2)</text><text x="1021.40" y="588.10" font-size="30.13" fill="#3a3a3a" textLength="16.57" lengthAdjust="spacingAndGlyphs">2</text><text x="1039.70" y="617.80" font-size="49.70" fill="#111" textLength="32.17" lengthAdjust="spacingAndGlyphs">P</text><text x="1075.10" y="640.60" font-size="24.12" fill="#3a3a3a" textLength="42.93" lengthAdjust="spacingAndGlyphs">1/2</text><text x="1018.40" y="697.40" font-size="30.82" fill="#3a3a3a" textLength="17.79" lengthAdjust="spacingAndGlyphs">2</text><text x="1037.10" y="726.10" font-size="49.70" fill="#111" textLength="32.92" lengthAdjust="spacingAndGlyphs">P</text><text x="1070.60" y="747.90" font-size="26.73" fill="#3a3a3a" textLength="46.16" lengthAdjust="spacingAndGlyphs">3/2</text><text x="1131.30" y="727.00" font-size="50.63" fill="#111" textLength="64.47" lengthAdjust="spacingAndGlyphs">(1)</text><text x="1414.40" y="472.30" font-size="30.90" fill="#3a3a3a" textLength="16.57" lengthAdjust="spacingAndGlyphs">2</text><text x="1431.40" y="498.60" font-size="51.14" fill="#111" textLength="34.25" lengthAdjust="spacingAndGlyphs">P</text><text x="1466.10" y="520.90" font-size="26.31" fill="#3a3a3a" textLength="45.06" lengthAdjust="spacingAndGlyphs">3/2</text><text x="1526.10" y="500.70" font-size="51.29" fill="#111" textLength="65.14" lengthAdjust="spacingAndGlyphs">(1)</text><text x="1419.60" y="592.90" font-size="30.82" fill="#3a3a3a" textLength="17.22" lengthAdjust="spacingAndGlyphs">2</text><text x="1438.70" y="619.90" font-size="50.56" fill="#111" textLength="32.17" lengthAdjust="spacingAndGlyphs">P</text><text x="1474.60" y="640.70" font-size="25.91" fill="#3a3a3a" textLength="42.96" lengthAdjust="spacingAndGlyphs">1/2</text></g>
</svg></body></html>
